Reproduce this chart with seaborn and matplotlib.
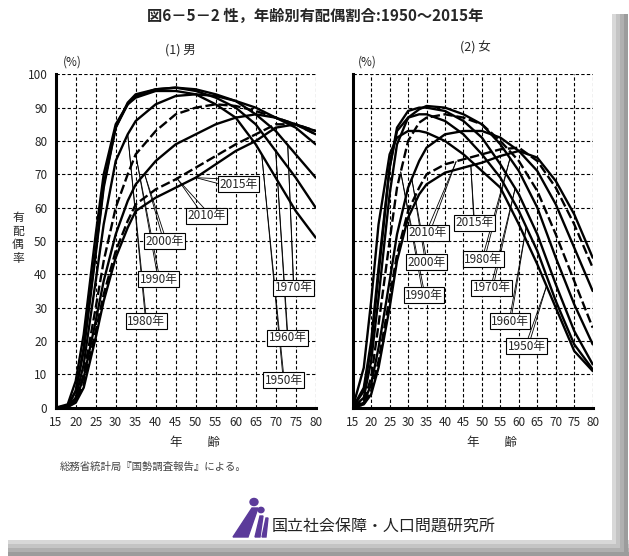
import matplotlib
matplotlib.use("Agg")
import pandas as pd
import matplotlib.pyplot as plt
import seaborn as sns
from matplotlib.patches import Rectangle, Circle, Polygon

ages = [15, 18, 20, 22, 25, 27, 30, 33, 35, 40, 45, 50, 55, 60, 65, 70, 75, 80]
years = ["1950", "1960", "1970", "1980", "1990", "2000", "2010", "2015"]

# (1) male, percent married
male_1950 = [0, 1, 8, 22, 52, 70, 85, 91, 93, 95, 95, 94, 91, 87, 79, 69, 59, 51]
male_1960 = [0, 0.5, 5, 17, 46, 66, 84, 91, 93.5, 95.5, 96, 95, 93, 90, 85, 77, 69, 60]
male_1970 = [0, 0.5, 5, 18, 47, 67, 84, 91.5, 94, 95.5, 96, 95.5, 94, 92, 88, 83, 76, 69]
male_1980 = [0, 0.3, 3, 13, 38, 55, 74, 82, 86, 91, 93.5, 94, 93.5, 92, 90, 87, 84, 79]
male_1990 = [0, 0.3, 2.5, 10, 30, 44, 60, 70, 76, 83, 88, 90, 91, 90.5, 89, 87, 85, 82]
male_2000 = [0, 0.3, 2.5, 9, 26, 38, 52, 62, 67, 74, 79, 82, 85, 87, 88, 87, 85, 83]
male_2010 = [0, 0.2, 2, 7, 23, 34, 47, 56, 61, 65.5, 68.5, 72, 75.5, 79, 82, 85, 85, 83]
male_2015 = [0, 0.2, 1.5, 6, 21, 32, 45, 54, 59, 63, 66, 69, 73, 77, 80, 84, 85, 82]

# (2) female, percent married
female_1950 = [0, 12, 32, 55, 76, 81, 83, 83, 82.5, 80, 76, 71, 66, 55, 43, 30, 17, 11]
female_1960 = [0, 6, 20, 42, 72, 83, 87, 88, 88, 86, 82, 76, 69, 59, 47, 32, 19, 11.5]
female_1970 = [0, 5, 18, 40, 72, 84, 89, 90, 90, 89, 86, 81, 73, 64, 52, 37, 23, 13]
female_1980 = [0, 3, 14, 33, 64, 79, 87, 89.5, 90.5, 90, 88, 85, 79, 71, 60, 45, 31, 19]
female_1990 = [0, 2, 9, 25, 50, 66, 80, 85.5, 87, 88, 87, 85, 80, 74, 65, 52, 38, 24]
female_2000 = [0, 1.5, 7, 18, 38, 52, 66, 74, 78, 82, 83, 83, 81, 77, 71, 61, 48, 35]
female_2010 = [0, 1, 5, 14, 33, 46, 59, 66, 70, 73, 74.5, 76, 77.5, 78, 74, 66, 55, 42]
female_2015 = [0, 1, 4, 12, 30, 44, 57, 64, 67, 70.5, 72, 73.5, 75.5, 77, 75, 68, 58, 45]

male = [male_1950, male_1960, male_1970, male_1980, male_1990, male_2000, male_2010, male_2015]
female = [female_1950, female_1960, female_1970, female_1980, female_1990, female_2000,
          female_2010, female_2015]

# label text, box position (age, %), point on the curve (age, %)
male_labels = [
    ("2015年", (60.8, 67), (50, 69)),
    ("2010年", (52.8, 57.5), (45.5, 68.5)),
    ("2000年", (42.3, 50), (37.3, 69.8)),
    ("1990年", (40.8, 38.6), (35, 76)),
    ("1980年", (37.6, 26), (33, 82)),
    ("1970年", (74.5, 36), (73, 79)),
    ("1960年", (73, 21), (70, 77)),
    ("1950年", (72, 8.3), (66.5, 76)),
]
female_labels = [
    ("2010年", (35.4, 52.5), (43, 73.8)),
    ("2015年", (47.9, 55.4), (47, 72.6)),
    ("2000年", (34.9, 43.7), (31, 68.7)),
    ("1990年", (34.3, 33.8), (28, 70.7)),
    ("1980年", (50.4, 44.6), (57.6, 74.8)),
    ("1970年", (52.7, 36), (59, 65.8)),
    ("1960年", (57.6, 26), (62, 54.2)),
    ("1950年", (62.2, 18.5), (67.5, 36.5)),
]


def long_frame(series):
    rows = []
    for year, vals in zip(years, series):
        for a, v in zip(ages, vals):
            rows.append({"age": a, "pct": v, "year": year})
    return pd.DataFrame(rows)


sns.set_style("white")
plt.rcParams["font.family"] = ["Noto Sans CJK JP", "DejaVu Sans"]

fig = plt.figure(figsize=(6.29, 5.56), dpi=100)
W, H = 629, 556

ax_m = fig.add_axes([55.7 / W, 1 - 407.7 / H, 260 / W, 333.4 / H])
ax_f = fig.add_axes([352.7 / W, 1 - 407.7 / H, 240 / W, 333.4 / H])

dash_map = {y: "" for y in years}
dash_map["1990"] = (4, 1.5)
dash_map["2010"] = (4, 1.5)
palette = {y: "black" for y in years}
box_style = dict(boxstyle="square,pad=0.12", fc="white", ec="black", lw=0.8)


def draw_panel(ax, series, labels, show_y, xlabel_x):
    df = long_frame(series)
    sns.lineplot(data=df, x="age", y="pct", hue="year", style="year",
                 palette=palette, dashes=dash_map, linewidth=1.7,
                 legend=False, ax=ax)
    ax.set_xlim(15, 80)
    ax.set_ylim(0, 100)
    ax.set_xticks(range(15, 81, 5))
    ax.set_yticks(range(0, 101, 10))
    ax.grid(True, color="black", linestyle=(0, (3, 2)), linewidth=0.8)
    for side in ["left", "bottom"]:
        ax.spines[side].set_linewidth(2.2)
        ax.spines[side].set_color("black")
    for side in ["top", "right"]:
        ax.spines[side].set_visible(False)
    ax.tick_params(length=0, labelsize=8.5, pad=6)
    if not show_y:
        ax.set_yticklabels([])
    ax.set_xlabel("年　　齢", fontsize=9)
    ax.xaxis.set_label_coords(xlabel_x, -0.085)
    ax.set_ylabel("")
    for text, box, pt in labels:
        # two thin leader lines meeting on the curve; the box hides their inner ends
        for dy in (-1.4, 1.4):
            ax.annotate("", xy=pt, xytext=(box[0], box[1] + dy),
                        arrowprops=dict(arrowstyle="-", color="black", lw=0.6,
                                        shrinkA=0, shrinkB=0),
                        zorder=4)
        ax.text(box[0], box[1], text, ha="center", va="center", fontsize=8.5,
                bbox=box_style, zorder=6)


draw_panel(ax_m, male, male_labels, True, 0.535)
draw_panel(ax_f, female, female_labels, False, 0.58)

# titles and texts
fig.text(315 / W, 1 - 16 / H, "図6－5－2 性，年齢別有配偶割合:1950～2015年",
         ha="center", va="center", fontsize=11, fontweight="bold")
fig.text(180 / W, 1 - 50 / H, "(1) 男", ha="center", va="center", fontsize=9)
fig.text(475 / W, 1 - 48 / H, "(2) 女", ha="center", va="center", fontsize=9)
fig.text(72 / W, 1 - 62 / H, "(%)", ha="center", va="center", fontsize=8.5)
fig.text(367 / W, 1 - 62 / H, "(%)", ha="center", va="center", fontsize=8.5)
fig.text(18 / W, 1 - 238 / H, "有\n配\n偶\n率", ha="center", va="center",
         fontsize=8.5, linespacing=1.05)
fig.text(60 / W, 1 - 467 / H, "総務省統計局『国勢調査報告』による。",
         ha="left", va="center", fontsize=7.5, color="#444444")

# institute logo and name
fig.text(272 / W, 1 - 527 / H, "国立社会保障・人口問題研究所", ha="left", va="center",
         fontsize=11.5, color="#222222")
purple = "#5b3a9a"
fig.add_artist(Circle((254 / W, 1 - 502 / H), 4 / W, transform=fig.transFigure,
                      color=purple))
fig.add_artist(Circle((261 / W, 1 - 510 / H), 3 / W, transform=fig.transFigure,
                      color=purple))
fig.add_artist(Polygon([[233 / W, 1 - 537 / H], [252 / W, 1 - 508 / H],
                        [258 / W, 1 - 508 / H], [248 / W, 1 - 537 / H]],
                       closed=True, transform=fig.transFigure, color=purple))
fig.add_artist(Polygon([[255 / W, 1 - 537 / H], [260 / W, 1 - 516 / H],
                        [263 / W, 1 - 516 / H], [260 / W, 1 - 537 / H]],
                       closed=True, transform=fig.transFigure, color=purple))
fig.add_artist(Polygon([[262 / W, 1 - 537 / H], [266 / W, 1 - 518 / H],
                        [268 / W, 1 - 518 / H], [266 / W, 1 - 537 / H]],
                       closed=True, transform=fig.transFigure, color=purple))

# grey bevelled frame on the right and bottom
for i, g in enumerate(["#d8d8d8", "#c4c4c4", "#b0b0b0", "#9c9c9c"]):
    fig.add_artist(Rectangle(((612 + 4 * i) / W, 0), 4 / W, 1 - 14 / H,
                             transform=fig.transFigure, color=g, lw=0))
    fig.add_artist(Rectangle((8 / W, (12 - 4 * i) / H), 1 - 8 / W, 4 / H,
                             transform=fig.transFigure, color=g, lw=0))

fig.savefig("out.png", dpi=100)
